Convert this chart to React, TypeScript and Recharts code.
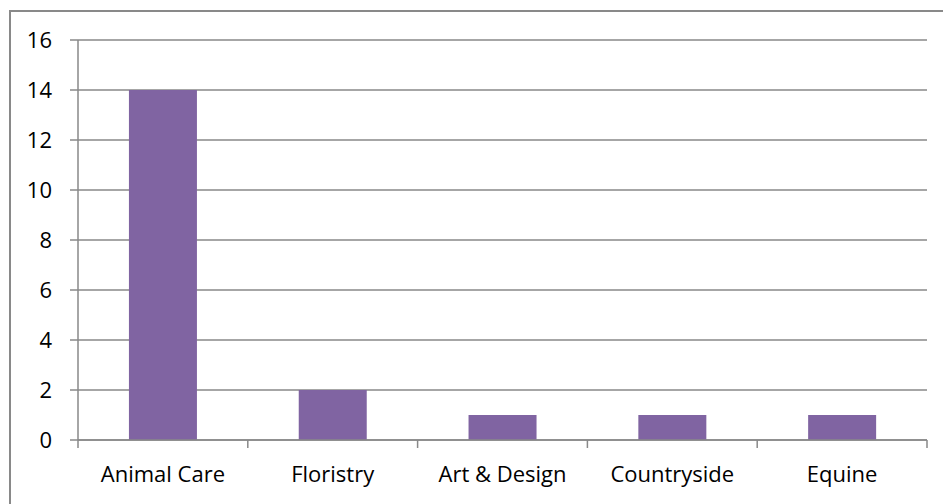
import { BarChart, Bar, XAxis, YAxis, CartesianGrid } from 'recharts';

const categories = ['Animal Care', 'Floristry', 'Art & Design', 'Countryside', 'Equine'];
const counts = [14, 2, 1, 1, 1];
const yTicks = [0, 2, 4, 6, 8, 10, 12, 14, 16];

const data = categories.map((name, i) => ({ name, value: counts[i] }));

const GREY = '#898989';
const FONT = '"Open Sans", sans-serif';
const TICK_SIZE = 8;
const TICK_MARGIN = 18;
const CHART_W = 943;
const MARGIN = { top: 40, right: 16, left: 0, bottom: 0 };
const Y_AXIS_W = 78;

// category label plus the small tick marks that sit on the category boundaries
function CategoryTick(props: any) {
  const { x, y, payload, index } = props;
  const band = (CHART_W - MARGIN.left - MARGIN.right - Y_AXIS_W) / categories.length;
  const half = payload && payload.offset ? payload.offset : band / 2;
  const top = y - TICK_SIZE - TICK_MARGIN;
  const edges = [x - half];
  if (index === categories.length - 1) edges.push(x + half);
  return (
    <g>
      {edges.map((ex, i) => (
        <line key={i} x1={ex} x2={ex} y1={top} y2={top + TICK_SIZE} stroke={GREY} strokeWidth={1.5} />
      ))}
      <text x={x} y={y} dy="0.71em" textAnchor="middle" fill="#000" fontSize={22} fontFamily={FONT}>
        {payload.value}
      </text>
    </g>
  );
}

export default function App() {
  return (
    <div
      style={{
        position: 'absolute',
        left: 0,
        top: 0,
        width: 943,
        height: 504,
        overflow: 'hidden',
        background: '#fff',
        fontFamily: FONT,
      }}
    >
      {/* outer chart frame, right and bottom edges fall outside the picture */}
      <div
        style={{
          position: 'absolute',
          left: 9,
          top: 10,
          width: 1000,
          height: 1000,
          border: `2px solid ${GREY}`,
          boxSizing: 'border-box',
        }}
      />
      <div style={{ position: 'absolute', left: 0, top: 0 }}>
        <BarChart width={CHART_W} height={504} data={data} margin={MARGIN} barCategoryGap="30%">
          <CartesianGrid vertical={false} stroke={GREY} strokeWidth={1.5} />
          <XAxis
            dataKey="name"
            height={64}
            axisLine={{ stroke: GREY, strokeWidth: 1.5 }}
            tickLine={false}
            tickSize={TICK_SIZE}
            tickMargin={TICK_MARGIN}
            interval={0}
            tick={<CategoryTick />}
          />
          <YAxis
            width={Y_AXIS_W}
            domain={[0, 16]}
            ticks={yTicks}
            interval={0}
            axisLine={{ stroke: GREY, strokeWidth: 1.5 }}
            tickLine={{ stroke: GREY, strokeWidth: 1.5 }}
            tickSize={TICK_SIZE}
            tickMargin={TICK_MARGIN}
            tick={{ fill: '#000', fontSize: 22, fontFamily: FONT }}
          />
          <Bar dataKey="value" fill="#8064A2" isAnimationActive={false} />
        </BarChart>
      </div>
    </div>
  );
}
